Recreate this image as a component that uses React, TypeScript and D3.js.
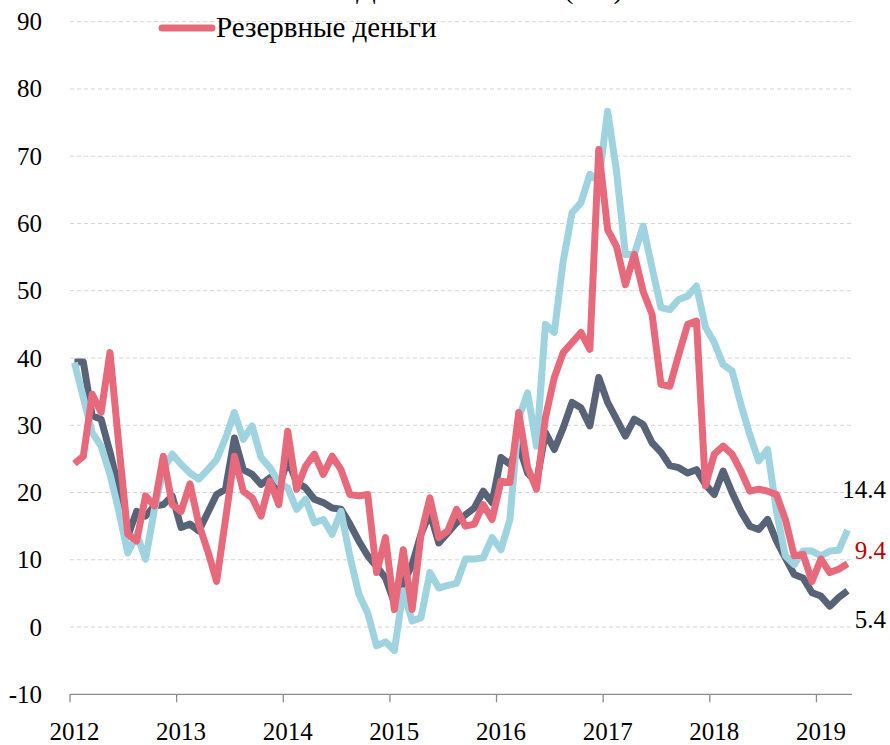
import { useEffect, useRef } from 'react';
import * as d3 from 'd3';

// monthly, Jan 2012 - Apr 2019, % y/y
const years = ['2012', '2013', '2014', '2015', '2016', '2017', '2018', '2019'];
const yTicks = [-10, 0, 10, 20, 30, 40, 50, 60, 70, 80, 90];

const darkSeries = [
  39.4, 39.4, 31.4, 30.9, 26.0, 20.5, 13.5, 17.2, 16.5, 18.0, 18.2, 19.5,
  14.8, 15.3, 14.3, 17.0, 19.7, 20.5, 28.1, 23.4, 22.7, 21.2, 22.2, 20.7,
  24.9, 21.5, 20.7, 19.0, 18.5, 17.7, 17.5, 15.3, 12.8, 10.6, 9.0, 7.3,
  3.6, 6.5, 9.3, 13.8, 17.0, 12.5, 14.0, 15.5, 16.7, 17.7, 20.2, 18.5,
  25.2, 24.2, 27.0, 22.9, 21.5, 28.9, 26.4, 29.6, 33.4, 32.6, 29.9, 37.1,
  33.4, 30.9, 28.4, 30.9, 30.1, 27.4, 26.0, 24.0, 23.7, 22.9, 23.4, 21.2,
  19.7, 23.2, 20.0, 17.2, 15.0, 14.5, 16.0, 12.8, 10.3, 7.8, 7.3, 5.1,
  4.6, 3.1, 4.4, 5.4,
];

const blueSeries = [
  39.3, 34.1, 28.9, 26.9, 22.7, 17.2, 11.0, 13.8, 10.1, 17.5, 23.5, 25.7,
  24.2, 22.9, 22.0, 23.4, 24.9, 28.1, 31.9, 27.9, 29.9, 25.2, 23.7, 21.5,
  20.7, 17.5, 19.0, 15.5, 16.0, 13.8, 17.2, 10.5, 4.9, 2.1, -2.8, -2.2,
  -3.5, 5.4, 0.9, 1.4, 8.1, 5.8, 6.2, 6.5, 10.1, 10.1, 10.3, 13.3,
  11.5, 16.0, 31.1, 34.8, 26.9, 45.0, 43.8, 54.4, 61.6, 63.1, 67.3, 66.3,
  76.7, 67.8, 55.4, 55.4, 59.6, 53.4, 47.5, 47.2, 48.7, 49.2, 50.7, 44.6,
  42.3, 39.0, 38.1, 33.1, 28.6, 24.7, 26.4, 17.2, 10.6, 9.3, 11.3, 11.3,
  10.6, 11.3, 11.4, 14.4,
];

const reserveSeries = [
  24.3, 25.4, 34.6, 31.9, 40.8, 27.0, 13.8, 12.8, 19.5, 18.0, 25.4, 18.2,
  17.2, 21.3, 15.3, 11.3, 6.8, 16.0, 25.4, 20.2, 19.2, 16.5, 21.7, 18.2,
  29.1, 20.5, 23.9, 25.7, 22.7, 25.4, 23.4, 19.7, 19.5, 19.7, 8.1, 13.3,
  2.6, 11.5, 2.6, 13.8, 19.2, 13.3, 14.3, 17.5, 15.0, 15.3, 18.2, 16.0,
  21.7, 21.5, 31.9, 23.7, 20.5, 31.1, 37.1, 40.8, 42.3, 43.8, 41.3, 71.0,
  59.1, 56.6, 50.9, 55.4, 49.9, 46.5, 36.1, 35.8, 40.5, 45.0, 45.5, 21.0,
  25.7, 26.9, 25.7, 23.2, 20.2, 20.5, 20.2, 19.7, 16.0, 10.6, 10.8, 6.8,
  10.1, 8.1, 8.6, 9.4,
];

const series = [
  { name: 'Широкая денежная масса', color: '#596378', values: darkSeries, label: '5.4', labelColor: '#000', labelShift: 29 },
  { name: 'Денежная масса (М2)', color: '#9fd3df', values: blueSeries, label: '14.4', labelColor: '#000', labelShift: -41 },
  { name: 'Резервные деньги', color: '#e76a7c', values: reserveSeries, label: '9.4', labelColor: '#c00000', labelShift: -13 },
];

const FONT = '"Liberation Serif", "Times New Roman", serif';

export default function App() {
  const svgRef = useRef<SVGSVGElement>(null);

  useEffect(() => {
    if (!svgRef.current) return;
    const svg = d3.select(svgRef.current);
    svg.selectAll('*').remove();

    const W = 890;
    const H = 745;
    const left = 70;
    const right = 852;
    const n = darkSeries.length;

    // category axis: each month is a band, points sit in the middle
    const x = d3.scaleLinear().domain([0, n]).range([left, right]);
    const y = d3.scaleLinear().domain([-10, 90]).range([694.3, 21.7]);

    // Grid
    svg.append('g')
      .selectAll('line')
      .data(yTicks.filter(t => t > -10))
      .enter()
      .append('line')
      .attr('x1', left)
      .attr('x2', right)
      .attr('y1', d => y(d))
      .attr('y2', d => y(d))
      .attr('stroke', '#d4d4d4')
      .attr('stroke-width', 1)
      .attr('stroke-dasharray', '4,3');

    // Y labels
    svg.append('g')
      .selectAll('text')
      .data(yTicks)
      .enter()
      .append('text')
      .attr('x', 42)
      .attr('y', d => y(d))
      .attr('dy', '0.34em')
      .attr('text-anchor', 'end')
      .attr('font-family', FONT)
      .attr('font-size', 25)
      .attr('fill', '#000')
      .text(d => d);

    // X axis
    svg.append('line')
      .attr('x1', left)
      .attr('x2', right)
      .attr('y1', y(-10))
      .attr('y2', y(-10))
      .attr('stroke', '#8c8c8c')
      .attr('stroke-width', 1.3);

    const xg = svg.append('g');
    years.forEach((yr, k) => {
      const xi = x(k * 12);
      xg.append('line')
        .attr('x1', xi)
        .attr('x2', xi)
        .attr('y1', y(-10))
        .attr('y2', y(-10) + 8)
        .attr('stroke', '#8c8c8c')
        .attr('stroke-width', 1.3);
      xg.append('text')
        .attr('x', x(k * 12 + 0.5))
        .attr('y', 740)
        .attr('text-anchor', 'middle')
        .attr('font-family', FONT)
        .attr('font-size', 25)
        .attr('fill', '#000')
        .text(yr);
    });

    // Lines
    const line = d3.line<number>()
      .x((_, i) => x(i + 0.5))
      .y(d => y(d))
      .curve(d3.curveLinear);

    series.forEach(s => {
      svg.append('path')
        .datum(s.values)
        .attr('d', line)
        .attr('fill', 'none')
        .attr('stroke', s.color)
        .attr('stroke-width', 7)
        .attr('stroke-linejoin', 'round');
    });

    // End labels
    series.forEach(s => {
      svg.append('text')
        .attr('x', 886)
        .attr('y', y(s.values[n - 1]) + s.labelShift)
        .attr('dy', '0.34em')
        .attr('text-anchor', 'end')
        .attr('font-family', FONT)
        .attr('font-size', 25)
        .attr('fill', s.labelColor)
        .text(s.label);
    });

    // Legend (upper row is cut off by the top edge, only descenders show)
    const legend = [
      { s: series[1], lx: 302, ty: -2 },
      { s: series[2], lx: 162, ty: 37 },
    ];
    legend.forEach(({ s, lx, ty }) => {
      svg.append('line')
        .attr('x1', lx)
        .attr('x2', lx + 50)
        .attr('y1', ty - 9)
        .attr('y2', ty - 9)
        .attr('stroke', s.color)
        .attr('stroke-width', 7)
        .attr('stroke-linecap', 'round');
      svg.append('text')
        .attr('x', lx + 54)
        .attr('y', ty)
        .attr('font-family', FONT)
        .attr('font-size', 29)
        .attr('fill', '#000')
        .text(s.name);
    });

    svg.attr('width', W).attr('height', H);
  }, []);

  return (
    <svg
      ref={svgRef}
      width={890}
      height={745}
      style={{ position: 'absolute', left: 0, top: 0, background: '#fff' }}
    />
  );
}
